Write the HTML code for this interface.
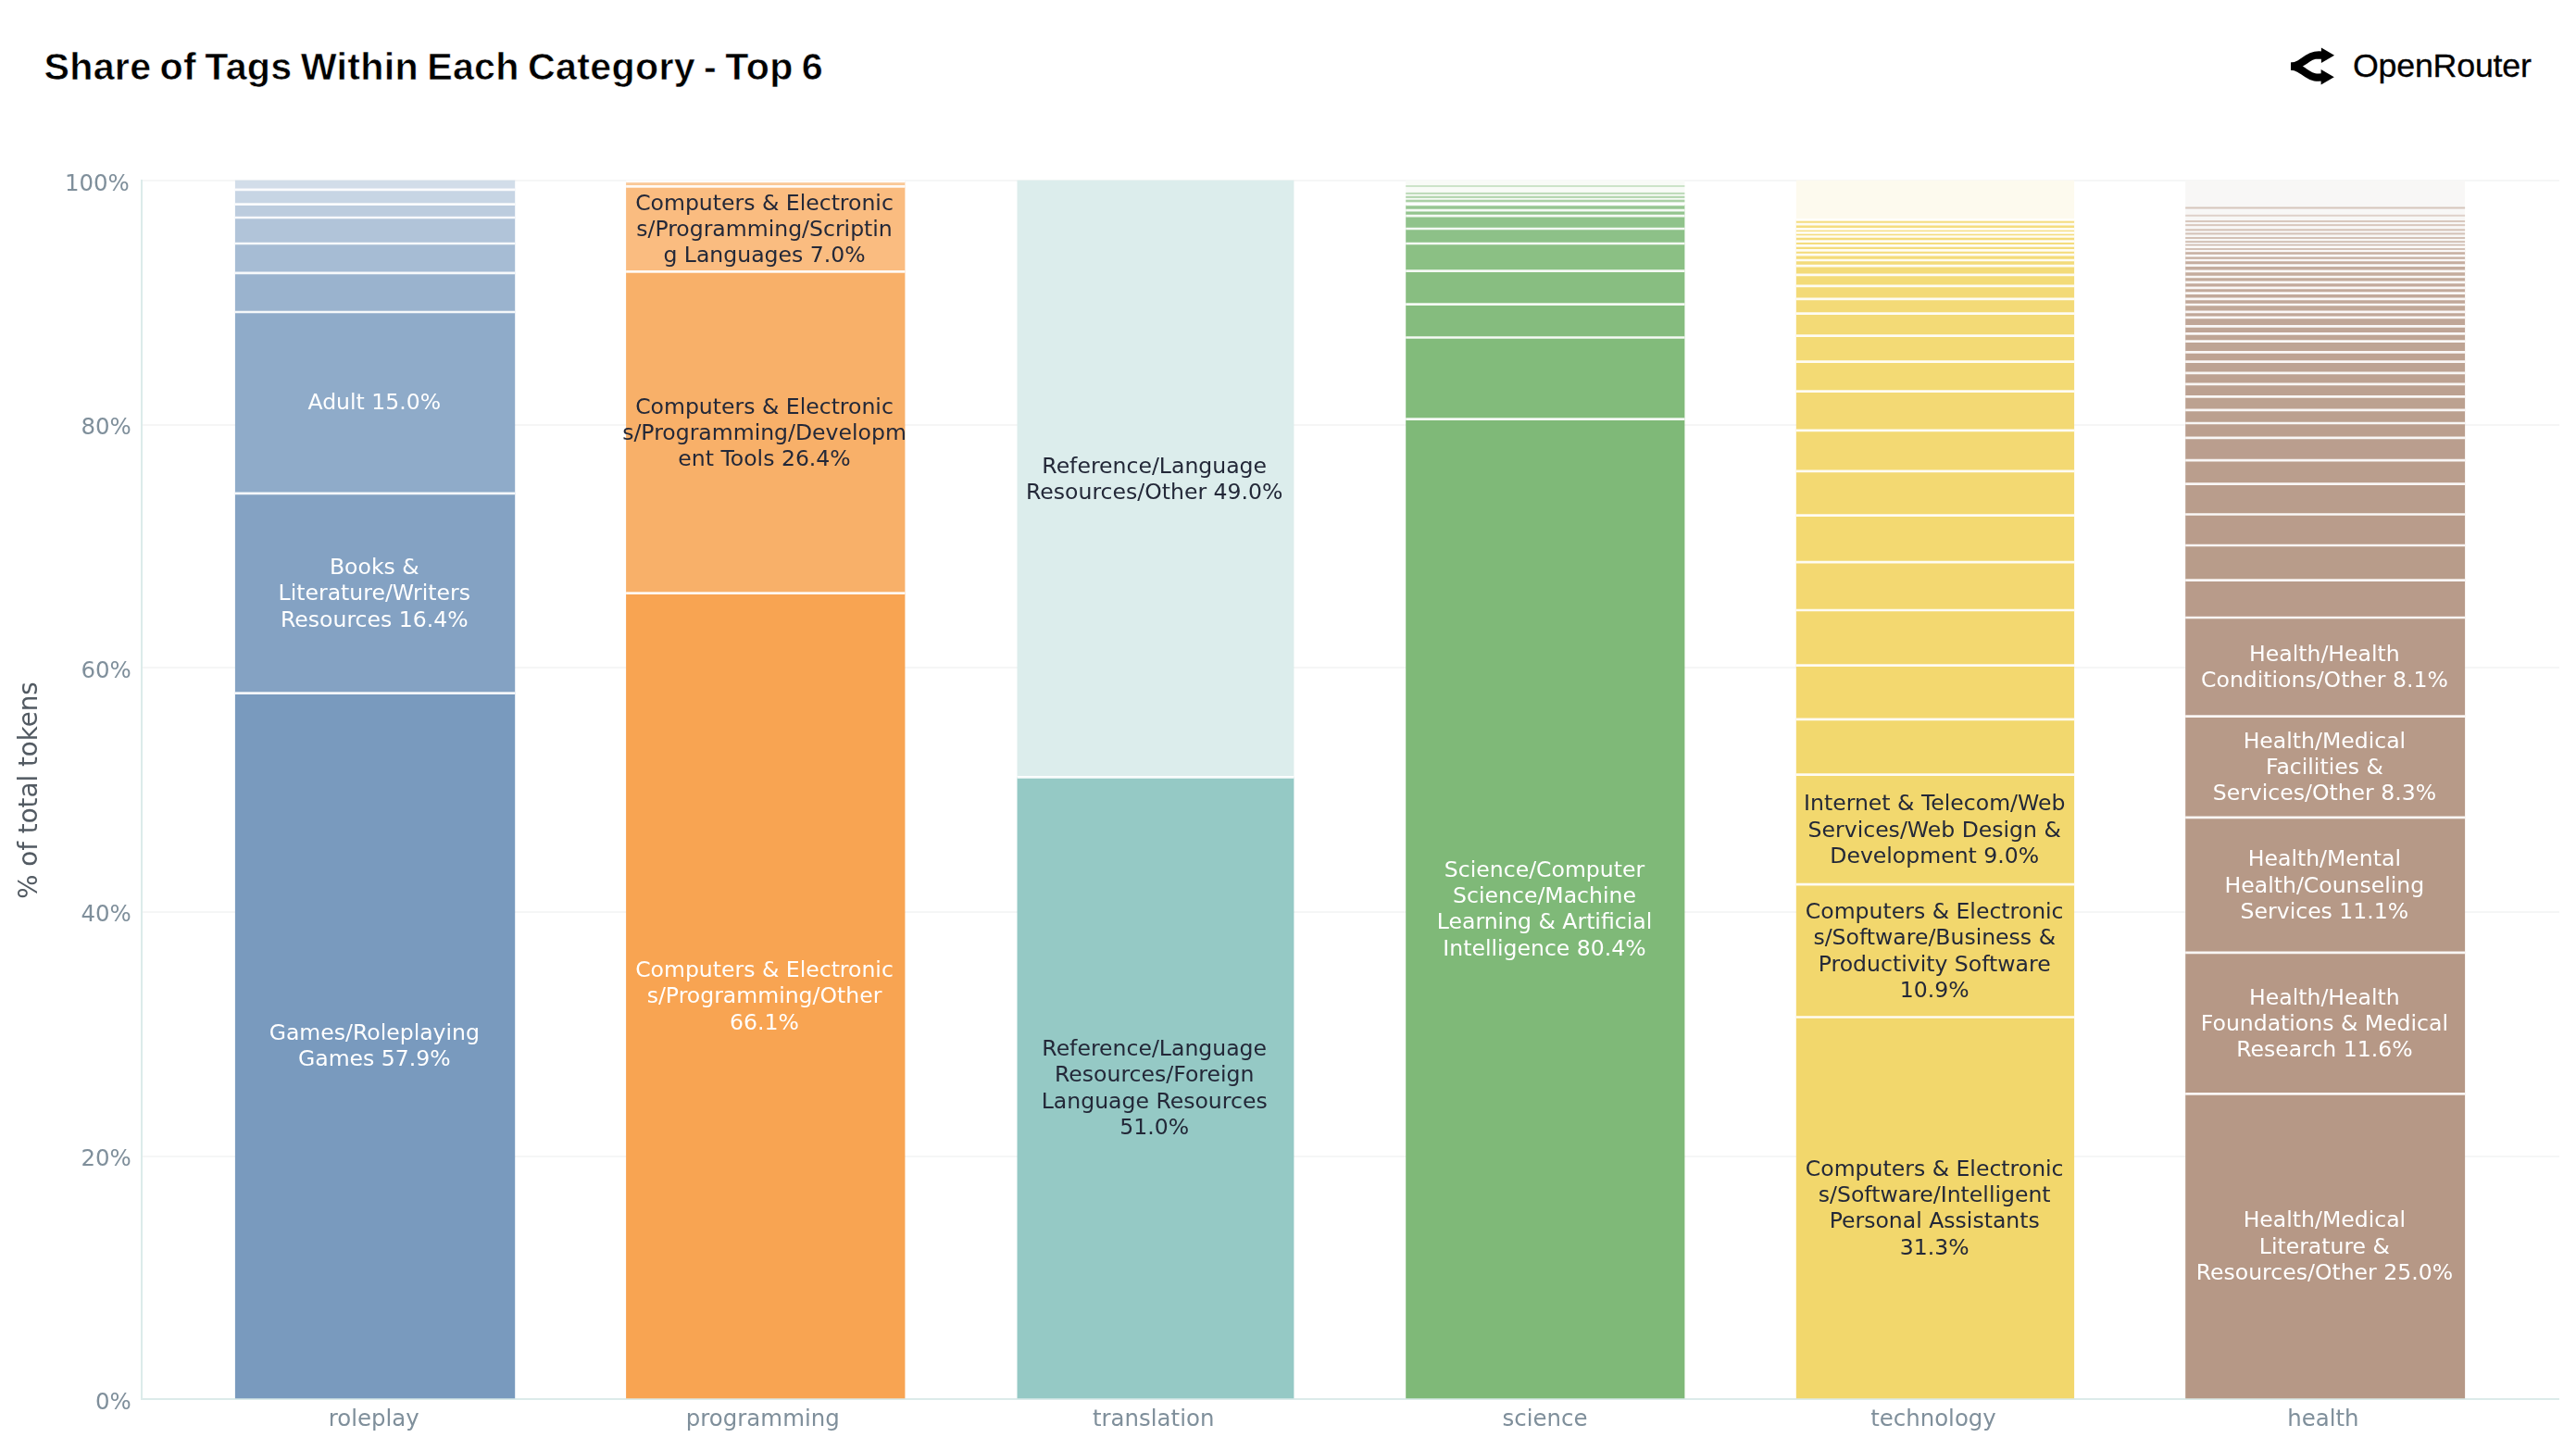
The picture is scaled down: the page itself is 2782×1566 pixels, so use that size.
<!DOCTYPE html>
<html lang="en"><head><meta charset="utf-8"><title>Share of Tags Within Each Category - Top 6</title>
<style>
html,body{margin:0;padding:0;background:#fff;}
body{width:2782px;height:1566px;overflow:hidden;position:relative;font-family:"Liberation Sans",sans-serif;}
svg{position:absolute;left:0;top:0;display:block}
.t{font-family:"DejaVu Sans","Liberation Sans",sans-serif;font-size:23.55px;text-anchor:middle}
.tick{font-family:"DejaVu Sans","Liberation Sans",sans-serif;font-size:24.45px;fill:#7f8f9b}
.w{fill:#ffffff}.d{fill:#232838}
h1{position:absolute;left:47.4px;top:43.6px;margin:0;font-size:41.2px;line-height:56px;font-weight:700;color:#000;white-space:nowrap;letter-spacing:0.31px;word-spacing:-2.6px;-webkit-text-stroke:0.6px #fff}
.brand{position:absolute;left:2540.9px;top:46.5px;font-size:35.8px;line-height:48px;color:#000;white-space:nowrap;letter-spacing:-0.22px;-webkit-text-stroke:0.3px #000}
</style></head><body>

<svg width="2782" height="1566" viewBox="0 0 2782 1566">
<rect width="2782" height="1566" fill="#ffffff"/>
<defs><filter id="soft" x="0" y="0" width="100%" height="100%" filterUnits="objectBoundingBox" color-interpolation-filters="sRGB"><feGaussianBlur stdDeviation="0.55"/></filter></defs>
<g filter="url(#soft)">
<rect x="0" y="150" width="2782" height="1416" fill="#ffffff"/>
<text class="tick" x="141.8" y="1521.6" text-anchor="end">0%</text>
<line x1="153.0" x2="2764.0" y1="1249.0" y2="1249.0" stroke="#f5f6f6" stroke-width="2"/>
<text class="tick" x="141.8" y="1258.5" text-anchor="end">20%</text>
<line x1="153.0" x2="2764.0" y1="985.0" y2="985.0" stroke="#f5f6f6" stroke-width="2"/>
<text class="tick" x="141.8" y="995.4" text-anchor="end">40%</text>
<line x1="153.0" x2="2764.0" y1="721.0" y2="721.0" stroke="#f5f6f6" stroke-width="2"/>
<text class="tick" x="141.8" y="732.2" text-anchor="end">60%</text>
<line x1="153.0" x2="2764.0" y1="459.0" y2="459.0" stroke="#f5f6f6" stroke-width="2"/>
<text class="tick" x="141.8" y="469.1" text-anchor="end">80%</text>
<line x1="153.0" x2="2764.0" y1="195.0" y2="195.0" stroke="#f5f6f6" stroke-width="2"/>
<text class="tick" x="139.8" y="206.0" text-anchor="end">100%</text>
<line x1="153.0" x2="153.0" y1="194.0" y2="1512.0" stroke="#dcebea" stroke-width="2"/>
<line x1="152.0" x2="2764.0" y1="1511.0" y2="1511.0" stroke="#dcebea" stroke-width="2"/>
<g>
<rect x="253.9" y="748.6" width="302.3" height="761.7" fill="#799abe"/>
<rect x="253.9" y="532.8" width="302.3" height="215.8" fill="#84a2c3"/>
<rect x="253.9" y="337.0" width="302.3" height="195.8" fill="#8fabc9"/>
<rect x="253.9" y="294.8" width="302.3" height="42.2" fill="#9ab3ce"/>
<rect x="253.9" y="263.0" width="302.3" height="31.8" fill="#a6bcd4"/>
<rect x="253.9" y="235.0" width="302.3" height="28.0" fill="#b1c4d9"/>
<rect x="253.9" y="220.7" width="302.3" height="14.3" fill="#bcccde"/>
<rect x="253.9" y="204.8" width="302.3" height="15.9" fill="#c7d5e4"/>
<rect x="253.9" y="194.7" width="302.3" height="10.1" fill="#d2dde9"/>
<line x1="253.9" x2="556.2" y1="748.6" y2="748.6" stroke="#fff" stroke-opacity="0.9" stroke-width="2.7"/>
<line x1="253.9" x2="556.2" y1="532.8" y2="532.8" stroke="#fff" stroke-opacity="0.9" stroke-width="2.7"/>
<line x1="253.9" x2="556.2" y1="337.0" y2="337.0" stroke="#fff" stroke-opacity="0.9" stroke-width="2.7"/>
<line x1="253.9" x2="556.2" y1="294.8" y2="294.8" stroke="#fff" stroke-opacity="0.9" stroke-width="2.7"/>
<line x1="253.9" x2="556.2" y1="263.0" y2="263.0" stroke="#fff" stroke-opacity="0.9" stroke-width="2.7"/>
<line x1="253.9" x2="556.2" y1="235.0" y2="235.0" stroke="#fff" stroke-opacity="0.9" stroke-width="2.7"/>
<line x1="253.9" x2="556.2" y1="220.7" y2="220.7" stroke="#fff" stroke-opacity="0.9" stroke-width="2.7"/>
<line x1="253.9" x2="556.2" y1="204.8" y2="204.8" stroke="#fff" stroke-opacity="0.9" stroke-width="2.7"/>
</g>
<g>
<rect x="676.1" y="640.7" width="301.3" height="869.6" fill="#f8a452"/>
<rect x="676.1" y="293.4" width="301.3" height="347.3" fill="#f8b069"/>
<rect x="676.1" y="201.4" width="301.3" height="92.0" fill="#fabc80"/>
<rect x="676.1" y="196.0" width="301.3" height="5.4" fill="#fac897"/>
<line x1="676.1" x2="977.4" y1="640.7" y2="640.7" stroke="#fff" stroke-opacity="0.9" stroke-width="2.7"/>
<line x1="676.1" x2="977.4" y1="293.4" y2="293.4" stroke="#fff" stroke-opacity="0.9" stroke-width="2.7"/>
<line x1="676.1" x2="977.4" y1="201.4" y2="201.4" stroke="#fff" stroke-opacity="0.9" stroke-width="2.7"/>
<line x1="676.1" x2="977.4" y1="196.0" y2="196.0" stroke="#fff" stroke-opacity="0.9" stroke-width="2.7"/>
</g>
<g>
<rect x="1098.5" y="839.3" width="298.9" height="671.0" fill="#95c9c5"/>
<rect x="1098.5" y="194.7" width="298.9" height="644.6" fill="#dcedec"/>
<line x1="1098.5" x2="1397.4" y1="839.3" y2="839.3" stroke="#fff" stroke-opacity="0.9" stroke-width="2.7"/>
</g>
<g>
<rect x="1518.2" y="452.6" width="301.2" height="1057.7" fill="#7fb978"/>
<rect x="1518.2" y="364.5" width="301.2" height="88.1" fill="#82bb7b"/>
<rect x="1518.2" y="328.6" width="301.2" height="35.9" fill="#85bc7e"/>
<rect x="1518.2" y="292.7" width="301.2" height="35.9" fill="#88be81"/>
<rect x="1518.2" y="263.0" width="301.2" height="29.7" fill="#8bc084"/>
<rect x="1518.2" y="247.0" width="301.2" height="16.0" fill="#8dc188"/>
<rect x="1518.2" y="233.1" width="301.2" height="13.9" fill="#90c38b"/>
<rect x="1518.2" y="227.1" width="301.2" height="6.0" fill="#93c48e"/>
<rect x="1518.2" y="220.9" width="301.2" height="6.2" fill="#96c691"/>
<rect x="1518.2" y="194.7" width="301.2" height="26.2" fill="#f8fbf7"/>
<rect x="1518.2" y="215.70" width="301.2" height="2.60" fill="#aad0a5"/>
<rect x="1518.2" y="211.70" width="301.2" height="2.20" fill="#b2d5ae"/>
<rect x="1518.2" y="207.90" width="301.2" height="2.00" fill="#bbdab7"/>
<rect x="1518.2" y="200.00" width="301.2" height="2.00" fill="#cce3c9"/>
<line x1="1518.2" x2="1819.4" y1="452.6" y2="452.6" stroke="#fff" stroke-opacity="0.9" stroke-width="2.7"/>
<line x1="1518.2" x2="1819.4" y1="364.5" y2="364.5" stroke="#fff" stroke-opacity="0.9" stroke-width="2.7"/>
<line x1="1518.2" x2="1819.4" y1="328.6" y2="328.6" stroke="#fff" stroke-opacity="0.9" stroke-width="2.7"/>
<line x1="1518.2" x2="1819.4" y1="292.7" y2="292.7" stroke="#fff" stroke-opacity="0.9" stroke-width="2.7"/>
<line x1="1518.2" x2="1819.4" y1="263.0" y2="263.0" stroke="#fff" stroke-opacity="0.9" stroke-width="2.7"/>
<line x1="1518.2" x2="1819.4" y1="247.0" y2="247.0" stroke="#fff" stroke-opacity="0.9" stroke-width="2.7"/>
<line x1="1518.2" x2="1819.4" y1="233.1" y2="233.1" stroke="#fff" stroke-opacity="0.9" stroke-width="2.7"/>
<line x1="1518.2" x2="1819.4" y1="227.1" y2="227.1" stroke="#fff" stroke-opacity="0.9" stroke-width="2.7"/>
<line x1="1518.2" x2="1819.4" y1="220.9" y2="220.9" stroke="#fff" stroke-opacity="0.9" stroke-width="2.7"/>
</g>
<g>
<rect x="1939.8" y="1098.5" width="300.3" height="411.8" fill="#f2d76c"/>
<rect x="1939.8" y="955.1" width="300.3" height="143.4" fill="#f2d76d"/>
<rect x="1939.8" y="836.7" width="300.3" height="118.4" fill="#f2d86e"/>
<rect x="1939.8" y="776.9" width="300.3" height="59.8" fill="#f2d86e"/>
<rect x="1939.8" y="718.6" width="300.3" height="58.3" fill="#f3d86f"/>
<rect x="1939.8" y="659.0" width="300.3" height="59.6" fill="#f3d870"/>
<rect x="1939.8" y="607.1" width="300.3" height="51.9" fill="#f3d871"/>
<rect x="1939.8" y="556.7" width="300.3" height="50.4" fill="#f3d971"/>
<rect x="1939.8" y="508.9" width="300.3" height="47.8" fill="#f3d972"/>
<rect x="1939.8" y="464.9" width="300.3" height="44.0" fill="#f3d973"/>
<rect x="1939.8" y="422.7" width="300.3" height="42.2" fill="#f3d974"/>
<rect x="1939.8" y="390.7" width="300.3" height="32.0" fill="#f3da74"/>
<rect x="1939.8" y="362.7" width="300.3" height="28.0" fill="#f3da75"/>
<rect x="1939.8" y="338.7" width="300.3" height="24.0" fill="#f3da76"/>
<rect x="1939.8" y="322.8" width="300.3" height="15.9" fill="#f3da77"/>
<rect x="1939.8" y="308.9" width="300.3" height="13.9" fill="#f3da77"/>
<rect x="1939.8" y="296.9" width="300.3" height="12.0" fill="#f3db78"/>
<rect x="1939.8" y="287.2" width="300.3" height="9.7" fill="#f3db79"/>
<rect x="1939.8" y="281.0" width="300.3" height="6.2" fill="#f3db7a"/>
<rect x="1939.8" y="275.2" width="300.3" height="5.8" fill="#f4db7a"/>
<rect x="1939.8" y="270.4" width="300.3" height="4.8" fill="#f4db7b"/>
<rect x="1939.8" y="265.3" width="300.3" height="5.1" fill="#f4dc7c"/>
<rect x="1939.8" y="260.7" width="300.3" height="4.6" fill="#f4dc7d"/>
<rect x="1939.8" y="255.5" width="300.3" height="5.2" fill="#f4dc7d"/>
<rect x="1939.8" y="251.4" width="300.3" height="4.1" fill="#f4dc7e"/>
<rect x="1939.8" y="247.3" width="300.3" height="4.1" fill="#f4dc7f"/>
<rect x="1939.8" y="242.1" width="300.3" height="5.2" fill="#f4dd80"/>
<rect x="1939.8" y="237.5" width="300.3" height="4.6" fill="#f4dd81"/>
<rect x="1939.8" y="194.7" width="300.3" height="42.8" fill="#fdfaee"/>
<line x1="1939.8" x2="2240.1" y1="1098.5" y2="1098.5" stroke="#fff" stroke-opacity="0.9" stroke-width="2.7"/>
<line x1="1939.8" x2="2240.1" y1="955.1" y2="955.1" stroke="#fff" stroke-opacity="0.9" stroke-width="2.7"/>
<line x1="1939.8" x2="2240.1" y1="836.7" y2="836.7" stroke="#fff" stroke-opacity="0.9" stroke-width="2.7"/>
<line x1="1939.8" x2="2240.1" y1="776.9" y2="776.9" stroke="#fff" stroke-opacity="0.9" stroke-width="2.7"/>
<line x1="1939.8" x2="2240.1" y1="718.6" y2="718.6" stroke="#fff" stroke-opacity="0.9" stroke-width="2.7"/>
<line x1="1939.8" x2="2240.1" y1="659.0" y2="659.0" stroke="#fff" stroke-opacity="0.9" stroke-width="2.7"/>
<line x1="1939.8" x2="2240.1" y1="607.1" y2="607.1" stroke="#fff" stroke-opacity="0.9" stroke-width="2.7"/>
<line x1="1939.8" x2="2240.1" y1="556.7" y2="556.7" stroke="#fff" stroke-opacity="0.9" stroke-width="2.7"/>
<line x1="1939.8" x2="2240.1" y1="508.9" y2="508.9" stroke="#fff" stroke-opacity="0.9" stroke-width="2.7"/>
<line x1="1939.8" x2="2240.1" y1="464.9" y2="464.9" stroke="#fff" stroke-opacity="0.9" stroke-width="2.7"/>
<line x1="1939.8" x2="2240.1" y1="422.7" y2="422.7" stroke="#fff" stroke-opacity="0.9" stroke-width="2.7"/>
<line x1="1939.8" x2="2240.1" y1="390.7" y2="390.7" stroke="#fff" stroke-opacity="0.9" stroke-width="2.7"/>
<line x1="1939.8" x2="2240.1" y1="362.7" y2="362.7" stroke="#fff" stroke-opacity="0.9" stroke-width="2.7"/>
<line x1="1939.8" x2="2240.1" y1="338.7" y2="338.7" stroke="#fff" stroke-opacity="0.9" stroke-width="2.7"/>
<line x1="1939.8" x2="2240.1" y1="322.8" y2="322.8" stroke="#fff" stroke-opacity="0.9" stroke-width="2.7"/>
<line x1="1939.8" x2="2240.1" y1="308.9" y2="308.9" stroke="#fff" stroke-opacity="0.9" stroke-width="2.7"/>
<line x1="1939.8" x2="2240.1" y1="296.9" y2="296.9" stroke="#fff" stroke-opacity="0.9" stroke-width="2.7"/>
<line x1="1939.8" x2="2240.1" y1="287.2" y2="287.2" stroke="#fff" stroke-opacity="0.9" stroke-width="2.7"/>
<line x1="1939.8" x2="2240.1" y1="281.0" y2="281.0" stroke="#fff" stroke-opacity="0.9" stroke-width="2.7"/>
<line x1="1939.8" x2="2240.1" y1="275.2" y2="275.2" stroke="#fff" stroke-opacity="0.9" stroke-width="2.7"/>
<line x1="1939.8" x2="2240.1" y1="270.4" y2="270.4" stroke="#fff" stroke-opacity="0.9" stroke-width="2.7"/>
<line x1="1939.8" x2="2240.1" y1="265.3" y2="265.3" stroke="#fff" stroke-opacity="0.9" stroke-width="2.7"/>
<line x1="1939.8" x2="2240.1" y1="260.7" y2="260.7" stroke="#fff" stroke-opacity="0.9" stroke-width="2.7"/>
<line x1="1939.8" x2="2240.1" y1="255.5" y2="255.5" stroke="#fff" stroke-opacity="0.9" stroke-width="2.7"/>
<line x1="1939.8" x2="2240.1" y1="251.4" y2="251.4" stroke="#fff" stroke-opacity="0.9" stroke-width="2.7"/>
<line x1="1939.8" x2="2240.1" y1="247.3" y2="247.3" stroke="#fff" stroke-opacity="0.9" stroke-width="2.7"/>
<line x1="1939.8" x2="2240.1" y1="242.1" y2="242.1" stroke="#fff" stroke-opacity="0.9" stroke-width="2.7"/>
<line x1="1939.8" x2="2240.1" y1="237.5" y2="237.5" stroke="#fff" stroke-opacity="0.9" stroke-width="2.7"/>
</g>
<g>
<rect x="2360.2" y="1181.4" width="301.9" height="328.9" fill="#b69886"/>
<rect x="2360.2" y="1028.8" width="301.9" height="152.6" fill="#b69886"/>
<rect x="2360.2" y="882.8" width="301.9" height="146.0" fill="#b69987"/>
<rect x="2360.2" y="773.6" width="301.9" height="109.2" fill="#b79a88"/>
<rect x="2360.2" y="667.0" width="301.9" height="106.6" fill="#b79a89"/>
<rect x="2360.2" y="626.7" width="301.9" height="40.3" fill="#b89b8a"/>
<rect x="2360.2" y="589.0" width="301.9" height="37.7" fill="#b89c8a"/>
<rect x="2360.2" y="555.5" width="301.9" height="33.5" fill="#b99c8b"/>
<rect x="2360.2" y="522.7" width="301.9" height="32.8" fill="#b99d8c"/>
<rect x="2360.2" y="497.1" width="301.9" height="25.6" fill="#ba9e8d"/>
<rect x="2360.2" y="472.8" width="301.9" height="24.3" fill="#ba9e8e"/>
<rect x="2360.2" y="457.0" width="301.9" height="15.8" fill="#bb9f8e"/>
<rect x="2360.2" y="442.8" width="301.9" height="14.2" fill="#bba08f"/>
<rect x="2360.2" y="428.3" width="301.9" height="14.5" fill="#bca190"/>
<rect x="2360.2" y="414.9" width="301.9" height="13.4" fill="#bca191"/>
<rect x="2360.2" y="402.9" width="301.9" height="12.0" fill="#bda292"/>
<rect x="2360.2" y="390.7" width="301.9" height="12.2" fill="#bda393"/>
<rect x="2360.2" y="380.3" width="301.9" height="10.4" fill="#bea393"/>
<rect x="2360.2" y="368.7" width="301.9" height="11.6" fill="#bea494"/>
<rect x="2360.2" y="360.4" width="301.9" height="8.3" fill="#bfa595"/>
<rect x="2360.2" y="352.4" width="301.9" height="8.0" fill="#bfa596"/>
<rect x="2360.2" y="342.9" width="301.9" height="9.5" fill="#c0a697"/>
<rect x="2360.2" y="336.9" width="301.9" height="6.0" fill="#c0a798"/>
<rect x="2360.2" y="329.0" width="301.9" height="7.9" fill="#c1a898"/>
<rect x="2360.2" y="322.8" width="301.9" height="6.2" fill="#c1a899"/>
<rect x="2360.2" y="316.6" width="301.9" height="6.2" fill="#c2a99a"/>
<rect x="2360.2" y="310.8" width="301.9" height="5.8" fill="#c2aa9b"/>
<rect x="2360.2" y="304.8" width="301.9" height="6.0" fill="#c3aa9c"/>
<rect x="2360.2" y="299.0" width="301.9" height="5.8" fill="#c3ab9c"/>
<rect x="2360.2" y="292.8" width="301.9" height="6.2" fill="#c4ac9d"/>
<rect x="2360.2" y="286.6" width="301.9" height="6.2" fill="#c4ac9e"/>
<rect x="2360.2" y="281.0" width="301.9" height="5.6" fill="#c5ad9f"/>
<rect x="2360.2" y="276.2" width="301.9" height="4.8" fill="#c5aea0"/>
<rect x="2360.2" y="271.0" width="301.9" height="5.2" fill="#c6aea0"/>
<rect x="2360.2" y="266.9" width="301.9" height="4.1" fill="#c6afa1"/>
<rect x="2360.2" y="194.7" width="301.9" height="72.2" fill="#f8f7f6"/>
<rect x="2360.2" y="263.80" width="301.9" height="2.00" fill="#cebaae"/>
<rect x="2360.2" y="260.10" width="301.9" height="2.00" fill="#d3c1b6"/>
<rect x="2360.2" y="256.00" width="301.9" height="2.00" fill="#d3c1b6"/>
<rect x="2360.2" y="251.40" width="301.9" height="2.00" fill="#d3c1b6"/>
<rect x="2360.2" y="247.30" width="301.9" height="2.00" fill="#d3c1b6"/>
<rect x="2360.2" y="242.10" width="301.9" height="2.00" fill="#d8c8be"/>
<rect x="2360.2" y="238.00" width="301.9" height="2.00" fill="#d8c8be"/>
<rect x="2360.2" y="231.80" width="301.9" height="2.00" fill="#dfd1ca"/>
<rect x="2360.2" y="223.50" width="301.9" height="2.00" fill="#d6c5bb"/>
<line x1="2360.2" x2="2662.1" y1="1181.4" y2="1181.4" stroke="#fff" stroke-opacity="0.9" stroke-width="2.7"/>
<line x1="2360.2" x2="2662.1" y1="1028.8" y2="1028.8" stroke="#fff" stroke-opacity="0.9" stroke-width="2.7"/>
<line x1="2360.2" x2="2662.1" y1="882.8" y2="882.8" stroke="#fff" stroke-opacity="0.9" stroke-width="2.7"/>
<line x1="2360.2" x2="2662.1" y1="773.6" y2="773.6" stroke="#fff" stroke-opacity="0.9" stroke-width="2.7"/>
<line x1="2360.2" x2="2662.1" y1="667.0" y2="667.0" stroke="#fff" stroke-opacity="0.9" stroke-width="2.7"/>
<line x1="2360.2" x2="2662.1" y1="626.7" y2="626.7" stroke="#fff" stroke-opacity="0.9" stroke-width="2.7"/>
<line x1="2360.2" x2="2662.1" y1="589.0" y2="589.0" stroke="#fff" stroke-opacity="0.9" stroke-width="2.7"/>
<line x1="2360.2" x2="2662.1" y1="555.5" y2="555.5" stroke="#fff" stroke-opacity="0.9" stroke-width="2.7"/>
<line x1="2360.2" x2="2662.1" y1="522.7" y2="522.7" stroke="#fff" stroke-opacity="0.9" stroke-width="2.7"/>
<line x1="2360.2" x2="2662.1" y1="497.1" y2="497.1" stroke="#fff" stroke-opacity="0.9" stroke-width="2.7"/>
<line x1="2360.2" x2="2662.1" y1="472.8" y2="472.8" stroke="#fff" stroke-opacity="0.9" stroke-width="2.7"/>
<line x1="2360.2" x2="2662.1" y1="457.0" y2="457.0" stroke="#fff" stroke-opacity="0.9" stroke-width="2.7"/>
<line x1="2360.2" x2="2662.1" y1="442.8" y2="442.8" stroke="#fff" stroke-opacity="0.9" stroke-width="2.7"/>
<line x1="2360.2" x2="2662.1" y1="428.3" y2="428.3" stroke="#fff" stroke-opacity="0.9" stroke-width="2.7"/>
<line x1="2360.2" x2="2662.1" y1="414.9" y2="414.9" stroke="#fff" stroke-opacity="0.9" stroke-width="2.7"/>
<line x1="2360.2" x2="2662.1" y1="402.9" y2="402.9" stroke="#fff" stroke-opacity="0.9" stroke-width="2.7"/>
<line x1="2360.2" x2="2662.1" y1="390.7" y2="390.7" stroke="#fff" stroke-opacity="0.9" stroke-width="2.7"/>
<line x1="2360.2" x2="2662.1" y1="380.3" y2="380.3" stroke="#fff" stroke-opacity="0.9" stroke-width="2.7"/>
<line x1="2360.2" x2="2662.1" y1="368.7" y2="368.7" stroke="#fff" stroke-opacity="0.9" stroke-width="2.7"/>
<line x1="2360.2" x2="2662.1" y1="360.4" y2="360.4" stroke="#fff" stroke-opacity="0.9" stroke-width="2.7"/>
<line x1="2360.2" x2="2662.1" y1="352.4" y2="352.4" stroke="#fff" stroke-opacity="0.9" stroke-width="2.7"/>
<line x1="2360.2" x2="2662.1" y1="342.9" y2="342.9" stroke="#fff" stroke-opacity="0.9" stroke-width="2.7"/>
<line x1="2360.2" x2="2662.1" y1="336.9" y2="336.9" stroke="#fff" stroke-opacity="0.9" stroke-width="2.7"/>
<line x1="2360.2" x2="2662.1" y1="329.0" y2="329.0" stroke="#fff" stroke-opacity="0.9" stroke-width="2.7"/>
<line x1="2360.2" x2="2662.1" y1="322.8" y2="322.8" stroke="#fff" stroke-opacity="0.9" stroke-width="2.7"/>
<line x1="2360.2" x2="2662.1" y1="316.6" y2="316.6" stroke="#fff" stroke-opacity="0.9" stroke-width="2.7"/>
<line x1="2360.2" x2="2662.1" y1="310.8" y2="310.8" stroke="#fff" stroke-opacity="0.9" stroke-width="2.7"/>
<line x1="2360.2" x2="2662.1" y1="304.8" y2="304.8" stroke="#fff" stroke-opacity="0.9" stroke-width="2.7"/>
<line x1="2360.2" x2="2662.1" y1="299.0" y2="299.0" stroke="#fff" stroke-opacity="0.9" stroke-width="2.7"/>
<line x1="2360.2" x2="2662.1" y1="292.8" y2="292.8" stroke="#fff" stroke-opacity="0.9" stroke-width="2.7"/>
<line x1="2360.2" x2="2662.1" y1="286.6" y2="286.6" stroke="#fff" stroke-opacity="0.9" stroke-width="2.7"/>
<line x1="2360.2" x2="2662.1" y1="281.0" y2="281.0" stroke="#fff" stroke-opacity="0.9" stroke-width="2.7"/>
<line x1="2360.2" x2="2662.1" y1="276.2" y2="276.2" stroke="#fff" stroke-opacity="0.9" stroke-width="2.7"/>
<line x1="2360.2" x2="2662.1" y1="271.0" y2="271.0" stroke="#fff" stroke-opacity="0.9" stroke-width="2.7"/>
<line x1="2360.2" x2="2662.1" y1="266.9" y2="266.9" stroke="#fff" stroke-opacity="0.9" stroke-width="2.7"/>
</g>
<text class="t w" x="404.3" y="1123.0">Games/Roleplaying</text>
<text class="t w" x="404.3" y="1151.3">Games 57.9%</text>
<text class="t w" x="404.3" y="620.2">Books &amp;</text>
<text class="t w" x="404.3" y="648.4">Literature/Writers</text>
<text class="t w" x="404.3" y="676.7">Resources 16.4%</text>
<text class="t w" x="404.3" y="441.9">Adult 15.0%</text>
<text class="tick" x="403.8" y="1539.7" text-anchor="middle">roleplay</text>
<text class="t w" x="825.5" y="1055.0">Computers &amp; Electronic</text>
<text class="t w" x="825.5" y="1083.2">s/Programming/Other</text>
<text class="t w" x="825.5" y="1111.5">66.1%</text>
<text class="t d" x="825.5" y="446.5">Computers &amp; Electronic</text>
<text class="t d" x="825.5" y="474.8">s/Programming/Developm</text>
<text class="t d" x="825.5" y="503.0">ent Tools 26.4%</text>
<text class="t d" x="825.5" y="226.8">Computers &amp; Electronic</text>
<text class="t d" x="825.5" y="255.1">s/Programming/Scriptin</text>
<text class="t d" x="825.5" y="283.3">g Languages 7.0%</text>
<text class="tick" x="823.8" y="1539.7" text-anchor="middle">programming</text>
<text class="t d" x="1246.7" y="1140.2">Reference/Language</text>
<text class="t d" x="1246.7" y="1168.4">Resources/Foreign</text>
<text class="t d" x="1246.7" y="1196.7">Language Resources</text>
<text class="t d" x="1246.7" y="1225.0">51.0%</text>
<text class="t d" x="1246.7" y="510.6">Reference/Language</text>
<text class="t d" x="1246.7" y="538.9">Resources/Other 49.0%</text>
<text class="tick" x="1245.7" y="1539.7" text-anchor="middle">translation</text>
<text class="t w" x="1668.0" y="946.8">Science/Computer</text>
<text class="t w" x="1668.0" y="975.0">Science/Machine</text>
<text class="t w" x="1668.0" y="1003.3">Learning &amp; Artificial</text>
<text class="t w" x="1668.0" y="1031.6">Intelligence 80.4%</text>
<text class="tick" x="1668.5" y="1539.7" text-anchor="middle">science</text>
<text class="t d" x="2089.2" y="1269.8">Computers &amp; Electronic</text>
<text class="t d" x="2089.2" y="1298.0">s/Software/Intelligent</text>
<text class="t d" x="2089.2" y="1326.3">Personal Assistants</text>
<text class="t d" x="2089.2" y="1354.5">31.3%</text>
<text class="t d" x="2089.2" y="992.2">Computers &amp; Electronic</text>
<text class="t d" x="2089.2" y="1020.4">s/Software/Business &amp;</text>
<text class="t d" x="2089.2" y="1048.7">Productivity Software</text>
<text class="t d" x="2089.2" y="1076.9">10.9%</text>
<text class="t d" x="2089.2" y="875.4">Internet &amp; Telecom/Web</text>
<text class="t d" x="2089.2" y="903.7">Services/Web Design &amp;</text>
<text class="t d" x="2089.2" y="931.9">Development 9.0%</text>
<text class="tick" x="2088.0" y="1539.7" text-anchor="middle">technology</text>
<text class="t w" x="2510.4" y="1325.3">Health/Medical</text>
<text class="t w" x="2510.4" y="1353.6">Literature &amp;</text>
<text class="t w" x="2510.4" y="1381.9">Resources/Other 25.0%</text>
<text class="t w" x="2510.4" y="1084.6">Health/Health</text>
<text class="t w" x="2510.4" y="1112.8">Foundations &amp; Medical</text>
<text class="t w" x="2510.4" y="1141.1">Research 11.6%</text>
<text class="t w" x="2510.4" y="935.3">Health/Mental</text>
<text class="t w" x="2510.4" y="963.5">Health/Counseling</text>
<text class="t w" x="2510.4" y="991.8">Services 11.1%</text>
<text class="t w" x="2510.4" y="807.6">Health/Medical</text>
<text class="t w" x="2510.4" y="835.9">Facilities &amp;</text>
<text class="t w" x="2510.4" y="864.2">Services/Other 8.3%</text>
<text class="t w" x="2510.4" y="713.9">Health/Health</text>
<text class="t w" x="2510.4" y="742.2">Conditions/Other 8.1%</text>
<text class="tick" x="2508.9" y="1539.7" text-anchor="middle">health</text>
<text transform="translate(39.6,853.5) rotate(-90)" text-anchor="middle" style="font-family:'DejaVu Sans','Liberation Sans',sans-serif;font-size:27.7px;fill:#525a62">% of total tokens</text>
</g>
<g transform="translate(2474,48.6) scale(0.0921)" fill="#000" stroke="#000">
<path d="M3 248.945C18 248.945 76 236 106 219C136 202 136 202 198 158C276.497 102.293 332 120.945 423 120.945" fill="none" stroke-width="90"/>
<path d="M511 121.5L357.25 210.268L357.25 32.7324L511 121.5Z" stroke="none"/>
<path d="M0 249C15 249 73 261.945 103 278.945C133 295.945 133 295.945 195 339.945C273.497 395.652 329 377 420 377" fill="none" stroke-width="90"/>
<path d="M508 376.445L354.25 287.678L354.25 465.213L508 376.445Z" stroke="none"/>
</g>
</svg>
<h1>Share of Tags Within Each Category - Top 6</h1>
<div class="brand">OpenRouter</div>
</body></html>
